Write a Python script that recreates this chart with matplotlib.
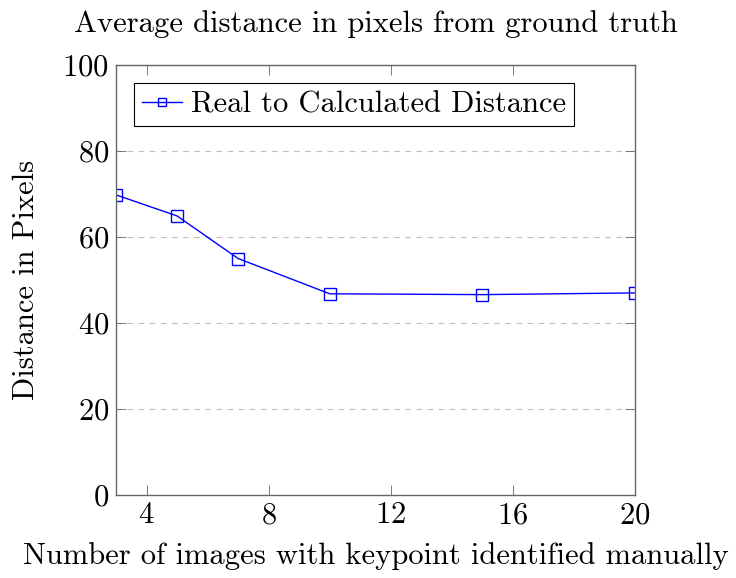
import matplotlib.pyplot as plt

plt.rcParams['font.family'] = 'cmr10'
plt.rcParams['mathtext.fontset'] = 'cm'
plt.rcParams['axes.formatter.use_mathtext'] = True

num_images = [3, 5, 7, 10, 15, 20]
distance = [69.8, 64.9, 55.0, 46.8, 46.6, 47.0]
xticks = [4, 8, 12, 16, 20]
yticks = [0, 20, 40, 60, 80, 100]

fig = plt.figure(figsize=(7.36, 5.78), dpi=100)
ax = fig.add_axes([0.1576, 0.1436, 0.7052, 0.7439])

ax.plot(num_images, distance, color='blue', linewidth=1.0, marker='s',
        markersize=8.5, markerfacecolor='none', markeredgecolor='blue',
        markeredgewidth=1.0, label='Real to Calculated Distance')

ax.set_xlim(3, 20)
ax.set_ylim(0, 100)
ax.set_xticks(xticks)
ax.set_yticks(yticks)
ax.yaxis.grid(True, linestyle=(0, (5, 5)), color='0.75', linewidth=0.8)
ax.set_axisbelow(True)

ax.tick_params(direction='in', top=True, right=True, length=7,
               width=0.6, color='0.4', labelsize=22, pad=5)
for s in ax.spines.values():
    s.set_color('0.4')
    s.set_linewidth(1.0)

ax.set_title('Average distance in pixels from ground truth', fontsize=22, pad=24)
ax.set_xlabel('Number of images with keypoint identified manually', fontsize=22,
              labelpad=9)
ax.set_ylabel('Distance in Pixels', fontsize=22, labelpad=16)

leg = ax.legend(loc='upper left', fontsize=22, fancybox=False,
                edgecolor='black', framealpha=1, borderaxespad=0.6,
                handlelength=1.3, handletextpad=0.3, borderpad=0.25,
                markerscale=0.6)
leg.get_frame().set_linewidth(0.8)

fig.savefig('out.png', dpi=100)
